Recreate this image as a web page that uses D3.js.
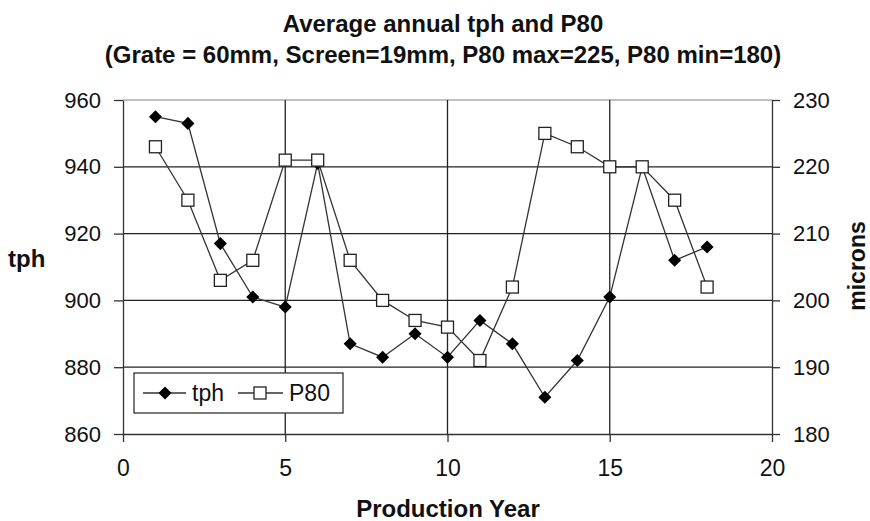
<!DOCTYPE html>
<html><head><meta charset="utf-8">
<script src="https://cdn.jsdelivr.net/npm/d3@7"></script>
<style>body{margin:0;background:#fff}svg{display:block;font-family:Arial,"Liberation Sans",sans-serif}</style>
</head><body><svg id="c" width="870" height="521"></svg>
<script>
const years = [1,2,3,4,5,6,7,8,9,10,11,12,13,14,15,16,17,18];
const tph = [955,953,917,901,898,941,887,883,890,883,894,887,871,882,901,940,912,916];
const p80 = [223,215,203,206,221,221,206,200,197,196,191,202,225,223,220,220,215,202];
const xTicks = [0,5,10,15,20];
const tphTicks = [860,880,900,920,940,960];
const p80Ticks = [180,190,200,210,220,230];
const titleLines = ["Average annual tph and P80","(Grate = 60mm, Screen=19mm, P80 max=225, P80 min=180)"];

const svg = d3.select("#c");
const L=123,R=772,T=100,B=434;
const x = d3.scaleLinear().domain([0,20]).range([L,R]);
const yL = d3.scaleLinear().domain([860,960]).range([B,T]);
const yR = d3.scaleLinear().domain([180,230]).range([B,T]);
const FF = "Arial, 'Liberation Sans', sans-serif";

// gridlines
svg.append("g").selectAll("line").data(tphTicks.filter(d=>d>860)).join("line")
  .attr("x1",L).attr("x2",R).attr("y1",d=>yL(d)).attr("y2",d=>yL(d))
  .attr("stroke",d=>d===960?"#aaa":"#222").attr("stroke-width",1.3);
svg.append("g").selectAll("line").data(xTicks.filter(d=>d>0&&d<20)).join("line")
  .attr("x1",d=>x(d)).attr("x2",d=>x(d)).attr("y1",T).attr("y2",B)
  .attr("stroke","#222").attr("stroke-width",1.3);

function styleAxis(size){
  return g=>{
    g.select(".domain").attr("stroke","#333").attr("stroke-width",1.3);
    g.selectAll(".tick line").attr("stroke","#333").attr("stroke-width",1.3);
    g.selectAll(".tick text").attr("font-size",size).attr("fill","#111").attr("font-family",FF);
  };
}
svg.append("g").attr("transform",`translate(0,${B})`)
  .call(d3.axisBottom(x).tickValues(xTicks).tickSize(8).tickSizeOuter(0).tickPadding(18))
  .call(styleAxis("23px"));
svg.append("g").attr("transform",`translate(${L},0)`)
  .call(d3.axisLeft(yL).tickValues(tphTicks).tickSize(9).tickSizeOuter(0).tickPadding(13))
  .call(styleAxis("22px"));
svg.append("g").attr("transform",`translate(${R},0)`)
  .call(d3.axisRight(yR).tickValues(p80Ticks).tickSize(8).tickSizeOuter(0).tickPadding(13))
  .call(styleAxis("22px"));

// lines
const lineL = d3.line().x((d,i)=>x(years[i])).y(d=>yL(d));
const lineR = d3.line().x((d,i)=>x(years[i])).y(d=>yR(d));
svg.append("path").datum(tph).attr("d",lineL).attr("fill","none").attr("stroke","#333").attr("stroke-width",1.3);
const diamond = d3.symbol().type(d3.symbolSquare).size(85)();
svg.append("g").selectAll("path").data(tph).join("path")
  .attr("d",diamond).attr("transform",(d,i)=>`translate(${x(years[i])},${yL(d)}) rotate(45)`)
  .attr("fill","#000");
svg.append("path").datum(p80).attr("d",lineR).attr("fill","none").attr("stroke","#333").attr("stroke-width",1.3);
svg.append("g").selectAll("rect").data(p80).join("rect")
  .attr("x",(d,i)=>x(years[i])-6).attr("y",d=>yR(d)-6).attr("width",12).attr("height",12)
  .attr("fill","#fff").attr("stroke","#222").attr("stroke-width",1.3);

// legend
const lg = svg.append("g");
lg.append("rect").attr("x",134).attr("y",373).attr("width",209).attr("height",40)
  .attr("fill","#fff").attr("stroke","#222").attr("stroke-width",1.2);
lg.append("line").attr("x1",143).attr("x2",186).attr("y1",393).attr("y2",393).attr("stroke","#333").attr("stroke-width",1.3);
lg.append("path").attr("d",diamond).attr("transform","translate(165,393) rotate(45)").attr("fill","#000");
lg.append("text").attr("x",192).attr("y",401).attr("font-size","23px").attr("fill","#111").text("tph");
lg.append("line").attr("x1",238).attr("x2",283).attr("y1",393).attr("y2",393).attr("stroke","#333").attr("stroke-width",1.3);
lg.append("rect").attr("x",254).attr("y",387).attr("width",12).attr("height",12).attr("fill","#fff").attr("stroke","#222").attr("stroke-width",1.3);
lg.append("text").attr("x",289).attr("y",401).attr("font-size","23px").attr("fill","#111").text("P80");

// titles
svg.append("g").selectAll("text").data(titleLines).join("text")
  .attr("x",443).attr("y",(d,i)=>32+i*31).attr("text-anchor","middle")
  .attr("font-size","24px").attr("font-weight","bold").attr("fill","#111").text(d=>d);
svg.append("text").attr("x",448).attr("y",517).attr("text-anchor","middle")
  .attr("font-size","24px").attr("font-weight","bold").attr("fill","#111").text("Production Year");
svg.append("text").attr("x",8).attr("y",267).attr("font-size","24px").attr("font-weight","bold").attr("fill","#111").text("tph");
svg.append("text").attr("transform","translate(865,266) rotate(-90)").attr("text-anchor","middle")
  .attr("font-size","23px").attr("font-weight","bold").attr("fill","#111").text("microns");
</script></body></html>
